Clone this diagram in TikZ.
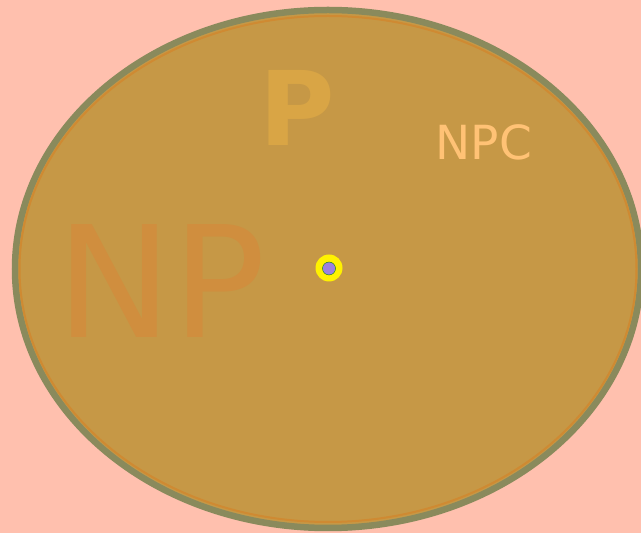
\documentclass[tikz,border=0pt]{standalone}
\usepackage{fontspec}
\setmainfont{DejaVu Sans}
\usetikzlibrary{shapes.geometric}
\definecolor{bgc}{HTML}{FFC0AE}
\definecolor{fillc}{HTML}{C69846}
\definecolor{olive}{HTML}{8A8A5C}
\definecolor{innerc}{HTML}{CF8A32}
\definecolor{ptext}{HTML}{D9A545}
\definecolor{npctext}{HTML}{FFC275}
\definecolor{nptext}{HTML}{D08E3E}
\definecolor{dotc}{HTML}{9B80E0}
\begin{document}
\begin{tikzpicture}[x=1pt,y=1pt,
  lbl/.style={inner sep=0pt,anchor=center}]
\fill[bgc] (0,0) rectangle (641,533);
\useasboundingbox (0,0) rectangle (641,533);
\node[ellipse,draw=olive,line width=6.5pt,fill=fillc,minimum width=626pt,minimum height=518pt,inner sep=0pt] (np) at (328,264) {};
\draw[innerc,line width=2pt] (328,264) ellipse [x radius=308.5, y radius=253];
\node[lbl,text=nptext,font=\fontsize{155}{155}\selectfont] (nplbl) at (161,252) {NP};
\node[lbl,text=ptext,font=\bfseries\fontsize{103}{103}\selectfont] (plbl) at (297,425) {P};
\node[lbl,text=npctext,font=\fontsize{47}{47}\selectfont] (npclbl) at (484,391) {NPC};
\node[circle,fill=yellow,minimum size=27pt,inner sep=0pt] (ring) at (329,265) {};
\node[circle,fill=dotc,draw=green!50!black,line width=0.4pt,minimum size=13pt,inner sep=0pt] (dot) at (329,264.5) {};
\end{tikzpicture}
\end{document}
